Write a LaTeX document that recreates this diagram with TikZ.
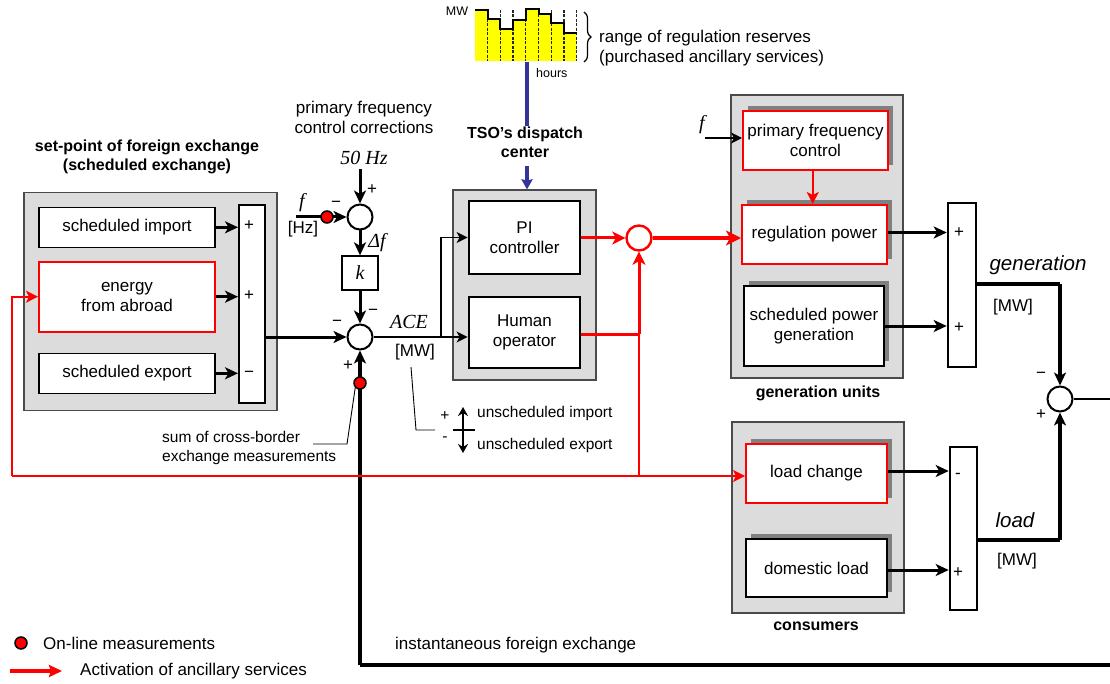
\documentclass[tikz,border=0pt]{standalone}
\usepackage{fontspec}
\setmainfont{Liberation Sans}
\newfontfamily\tnr{Liberation Serif}
\usetikzlibrary{arrows.meta,decorations.pathreplacing,shadows,calc}
\definecolor{grpfill}{HTML}{DCDCDC}
\definecolor{grpline}{HTML}{4A4A4A}
\definecolor{shadowgray}{HTML}{808080}
\definecolor{tsoblue}{HTML}{333399}
\definecolor{chartyellow}{HTML}{FFFF00}
\newcommand\fsA{\fontsize{17}{20}\selectfont}
\newcommand\fsB{\fontsize{16}{19}\selectfont}
\newcommand\fsC{\fontsize{15.5}{19}\selectfont}
\newcommand\fsS{\fontsize{12.5}{14}\selectfont}
\newcommand\fsI{\fontsize{20.5}{22}\selectfont\itshape}
\newcommand\fsT{\fontsize{20}{22}\selectfont\tnr\itshape}
\tikzset{
  grp/.style={draw=grpline, fill=grpfill, line width=1.2, inner sep=0},
  blk/.style={draw, fill=white, line width=1.3, inner sep=0, align=center, font=\fsA},
  blkthick/.style={blk, line width=2.8},
  blkred/.style={blk, draw=red, line width=2},
  shad/.style={drop shadow={shadow xshift=5pt, shadow yshift=5pt, fill=shadowgray, opacity=1}},
  sumbar/.style={draw, fill=white, line width=2, inner sep=0},
  sumc/.style={circle, draw, fill=white, line width=2, minimum size=25, inner sep=0},
  sumcred/.style={sumc, draw=red, line width=2.4},
  mdot/.style={circle, draw=black, fill=red, line width=1.5, minimum size=12, inner sep=0},
  arr/.style={-{Stealth[length=13pt,width=12pt,inset=3.5pt]}, line width=3},
  arrthin/.style={-{Stealth[length=11pt,width=11pt,inset=3pt]}, line width=1.8},
  rarr/.style={red, -{Stealth[length=12pt,width=12pt,inset=3pt]}, line width=2},
  rarrmid/.style={red, -{Stealth[length=13pt,width=13pt,inset=3.5pt]}, line width=3},
  rarrbig/.style={red, -{Stealth[length=15pt,width=15pt,inset=4pt]}, line width=4},
  lbl/.style={inner sep=0, font=\fsA, align=center},
  sgn/.style={inner sep=0, font=\fsA},
}
\begin{document}
\begin{tikzpicture}[x=1pt,y=-1pt]
\useasboundingbox (0,0) rectangle (1110,684);

% ---------- regulation reserve chart ----------
\fill[chartyellow] (475,61) -- (475,10) -- (487.7,10) -- (487.7,19) -- (500.4,19) -- (500.4,29)
  -- (513.1,29) -- (513.1,20) -- (525.8,20) -- (525.8,9.5) -- (538.5,9.5) -- (538.5,14)
  -- (551.2,14) -- (551.2,23) -- (563.9,23) -- (563.9,33) -- (576.6,33) -- (576.6,61) -- cycle;
\foreach \x in {487.7,500.4,513.1,525.8,538.5,551.2,563.9,576.6}
  \draw[black!85, line width=1.3, dash pattern=on 3pt off 1.5pt] (\x,10) -- (\x,61);
\draw[line width=2] (475,10) -- (487.7,10) -- (487.7,19) -- (500.4,19) -- (500.4,29)
  -- (513.1,29) -- (513.1,20) -- (525.8,20) -- (525.8,9.5) -- (538.5,9.5) -- (538.5,14)
  -- (551.2,14) -- (551.2,23) -- (563.9,23) -- (563.9,33) -- (576.6,33);
\node[inner sep=0, font=\fsS] (mwlbl) at (457,11) {MW};
\node[inner sep=0, font=\fsS, anchor=west] (hourslbl) at (536,73) {hours};
\draw[decorate, decoration={brace, amplitude=7pt}, line width=1.2] (584,12) -- (584,62);
\node[inner sep=0, font=\fsA, align=left, anchor=west] (rangelbl) at (599,48)
  {range of regulation reserves\\(purchased ancillary services)};

% ---------- TSO dispatch center ----------
\coordinate (chartfoot) at (527,62);
\node[lbl, font=\fsB\bfseries] (tsolbl) at (525,142) {TSO’s dispatch\\center};
\coordinate (tsoarrow) at (527,166);
\draw[tsoblue, line width=3.5] (chartfoot) -- (tsolbl.north -| chartfoot);
\node[grp, minimum width=143, minimum height=190] (tsogrp) at (524.5,285) {};
\draw[tsoblue, line width=3.5, -{Stealth[length=10pt,width=11pt,inset=1pt]}] (tsoarrow) -- (tsogrp.north -| tsoarrow);
\node[blkthick, minimum width=111, minimum height=73] (pi) at (524.5,237.5) {PI\\controller};
\node[blkthick, minimum width=111, minimum height=71] (hum) at (524.5,332.5) {Human\\operator};

% ---------- set-point of foreign exchange ----------
\node[lbl, font=\fsB\bfseries] (setlbl) at (147,157) {set-point of foreign exchange\\(scheduled exchange)};
\node[grp, minimum width=253, minimum height=218] (leftgrp) at (150.5,301.5) {};
\node[blk, minimum width=176, minimum height=40] (imp) at (127,227.3) {scheduled import};
\node[blkred, minimum width=176, minimum height=70] (abroad) at (127,296.7) {energy\\from abroad};
\node[blk, minimum width=176, minimum height=40] (exp) at (127,373.3) {scheduled export};
\node[sumbar, minimum width=26, minimum height=198] (lbar) at (252,304) {};
\draw[arr] (imp.east) -- (imp.east -| lbar.west);
\draw[arr] (abroad.east) -- (abroad.east -| lbar.west);
\draw[arr] (exp.east) -- (exp.east -| lbar.west);
\node[sgn] (lp1) at (249,226) {+};
\node[sgn] (lp2) at (249,296) {+};
\node[sgn] (lm3) at (249,374) {−};

% ---------- frequency correction and ACE ----------
\node[lbl] (pfclbl) at (364,117) {primary frequency\\control corrections};
\node[inner sep=0, font=\fsT] (hzlbl) at (364,158) {50 Hz};
\node[sumc] (fsum) at (360,217) {};
\coordinate (hzin) at (360,169);
\draw[arr] (hzin) -- (fsum.north);
\node[sgn] (fplus) at (372,190) {+};
\node[sgn] (fminus) at (336,204) {−};
\node[inner sep=0, font=\fsT] (flbl) at (302,203) {f};
\node[inner sep=0, font=\fsA] (hzunit) at (303,229) {[Hz]};
\coordinate (fin) at (296,217);
\draw[arr] (fin) -- (fsum.west);
\node[mdot] (fdot) at (327,217) {};
\node[draw, fill=white, line width=1.3, minimum width=36, minimum height=34, inner sep=0, font=\fsT] (kbox) at (360,273) {k};
\draw[arr] (fsum.south) -- (kbox.north);
\node[inner sep=0, font=\fsT] (dflbl) at (377,243) {Δf};
\node[sumc] (ace) at (360,337) {};
\draw[arr] (kbox.south) -- (ace.north);
\draw[arr] (lbar.east |- ace) -- (ace.west);
\node[sgn] (am1) at (373,312) {−};
\node[sgn] (am2) at (337,323) {−};
\node[sgn] (ap) at (348,366) {+};
\node[inner sep=0, font=\fsT] (acelbl) at (409,322) {ACE};
\node[inner sep=0, font=\fsA] (acemw) at (415,352) {[MW]};
\coordinate (acebr) at (441,337);
\draw[arrthin] (ace.east) -- (ace.east -| hum.west);
\draw[arrthin, line width=1.4] (acebr) |- (pi.west);

% instantaneous foreign exchange feedback
\coordinate (fbcorner) at (360,665);
\coordinate (fbright) at (1110,665);
\draw[line width=3.2] (fbright) -- (fbcorner);
\draw[arr, line width=3.2] (fbcorner) -- (ace.south);
\node[mdot] (xdot) at (360,383) {};
\node[inner sep=0, font=\fsA, anchor=west] (instlbl) at (395,645) {instantaneous foreign exchange};

% cross-border label and leader
\node[inner sep=0, font=\fsC, align=left, anchor=west] (cblbl) at (162,447.5) {sum of cross-border\\exchange measurements};
\coordinate (cbl1) at (313,444);
\coordinate (cbl2) at (347,444);
\draw[line width=0.9] (cbl1) -- (cbl2) -- (xdot.south west);

% unscheduled exchange note
\coordinate (mwl0) at (411,367);
\coordinate (mwl1) at (416,430);
\coordinate (mwl2) at (435,430);
\draw[line width=0.9] (mwl0) -- (mwl1) -- (mwl2);
\node[sgn, font=\fsC] (up) at (445,416) {+};
\node[sgn, font=\fsC] (un) at (445,439) {-};
\coordinate (usTop) at (463,407);
\coordinate (usBot) at (463,453);
\draw[line width=2.4, {Stealth[length=9pt,width=10pt]}-{Stealth[length=9pt,width=10pt]}] (usBot) -- (usTop);
\coordinate (tickL) at (453,430);
\coordinate (tickR) at (475,430);
\draw[line width=1.2] (tickL) -- (tickR);
\node[inner sep=0, font=\fsC, anchor=west] (usimp) at (477,413) {unscheduled import};
\node[inner sep=0, font=\fsC, anchor=west] (usexp) at (477,445) {unscheduled export};

% ---------- activation (red) paths ----------
\node[sumcred] (rsum) at (639,238) {};
\draw[rarrmid] (pi.east |- rsum) -- (rsum.west);
\coordinate (hjoin) at (639,334);
\coordinate (ljoin) at (639,476);
\draw[red, line width=3] (hum.east |- hjoin) -- (hjoin);
\draw[rarrmid] (hjoin) -- (rsum.south);
\draw[red, line width=2] (hjoin) -- (ljoin);
\coordinate (rleft) at (12,476);
\coordinate (rleftup) at (12,296.7);

% ---------- generation units ----------
\node[grp, minimum width=172, minimum height=283] (gengrp) at (817,236.5) {};
\node[font=\fsB\bfseries, inner sep=0] (genlbl) at (818,393) {generation units};
\node[blkred, shad, minimum width=145, minimum height=59] (pfc) at (815.5,140.5) {primary frequency\\control};
\node[blkred, shad, minimum width=145, minimum height=59] (regp) at (814.5,234.5) {regulation power};
\node[blkthick, shad, minimum width=140, minimum height=80] (sgen) at (814,326) {scheduled power\\generation};
\draw[rarr] (pfc.south -| 812.7,0) -- (regp.north -| 812.7,0);
\coordinate (fgen) at (705,138);
\node[inner sep=0, font=\fsT] (fglbl) at (702,125) {f};
\draw[arrthin, line width=2.2] (fgen) -- (fgen -| pfc.west);
\draw[rarrbig] (rsum.east) -- (regp.west |- rsum);
\node[sumbar, line width=2.6, minimum width=28, minimum height=164] (gbar) at (962,285) {};
\draw[arr] (regp.east |- 0,232.5) -- (gbar.west |- 0,232.5);
\draw[arr] (sgen.east) -- (sgen.east -| gbar.west);
\node[sgn] (gp1) at (959,233) {+};
\node[sgn] (gp2) at (959,328) {+};

% ---------- consumers ----------
\node[grp, minimum width=172, minimum height=191] (congrp) at (818,517.5) {};
\node[font=\fsB\bfseries, inner sep=0] (conlbl) at (816,626) {consumers};
\node[blkred, shad, minimum width=141, minimum height=59] (loadch) at (816.5,473.5) {load change};
\node[blkthick, shad, minimum width=141, minimum height=58] (dom) at (816.5,568) {domestic load};
\node[sumbar, line width=2.6, minimum width=27, minimum height=163] (lobar) at (963.5,528.5) {};
\draw[arr] (loadch.east |- 0,471) -- (lobar.west |- 0,471);
\draw[arr] (dom.east |- 0,570) -- (lobar.west |- 0,570);
\node[sgn] (lm) at (958,476) {-};
\node[sgn] (lp) at (958,573) {+};

% red feedback to energy from abroad and load change
\draw[rarr] (rleft) -- (loadch.west |- rleft);
\draw[rarr] (rleft) -- (rleftup) -- (abroad.west);

% ---------- balance ----------
\node[sumc] (bal) at (1060,399) {};
\coordinate (gcorner) at (1060,284);
\coordinate (lcorner) at (1060,540);
\coordinate (balout) at (1110,399);
\draw[line width=3.4] (gbar.east |- gcorner) -- (gcorner);
\draw[arr, line width=3.4] (gcorner) -- (bal.north);
\draw[line width=3.4] (lobar.east |- lcorner) -- (lcorner);
\draw[arr, line width=3.4] (lcorner) -- (bal.south);
\draw[line width=2] (bal.east) -- (balout);
\node[sgn] (bm) at (1041,375) {−};
\node[sgn] (bp) at (1041,415) {+};
\node[inner sep=0, font=\fsI] (genit) at (1038,265) {generation};
\node[inner sep=0, font=\fsA] (genmw) at (1013,307) {[MW]};
\node[inner sep=0, font=\fsI] (loadit) at (1015,520) {load};
\node[inner sep=0, font=\fsA] (loadmw) at (1017,561) {[MW]};

% ---------- legend ----------
\node[mdot] (legdot) at (21,643) {};
\node[inner sep=0, font=\fsA, anchor=west] (legdottxt) at (43,643) {On-line measurements};
\coordinate (legarrA) at (10,671);
\coordinate (legarrB) at (62,671);
\draw[red, line width=3.5, -{Stealth[length=13pt,width=12pt,inset=2pt]}] (legarrA) -- (legarrB);
\node[inner sep=0, font=\fsA, anchor=west] (legarrtxt) at (80,671) {Activation of ancillary services};
\end{tikzpicture}
\end{document}
